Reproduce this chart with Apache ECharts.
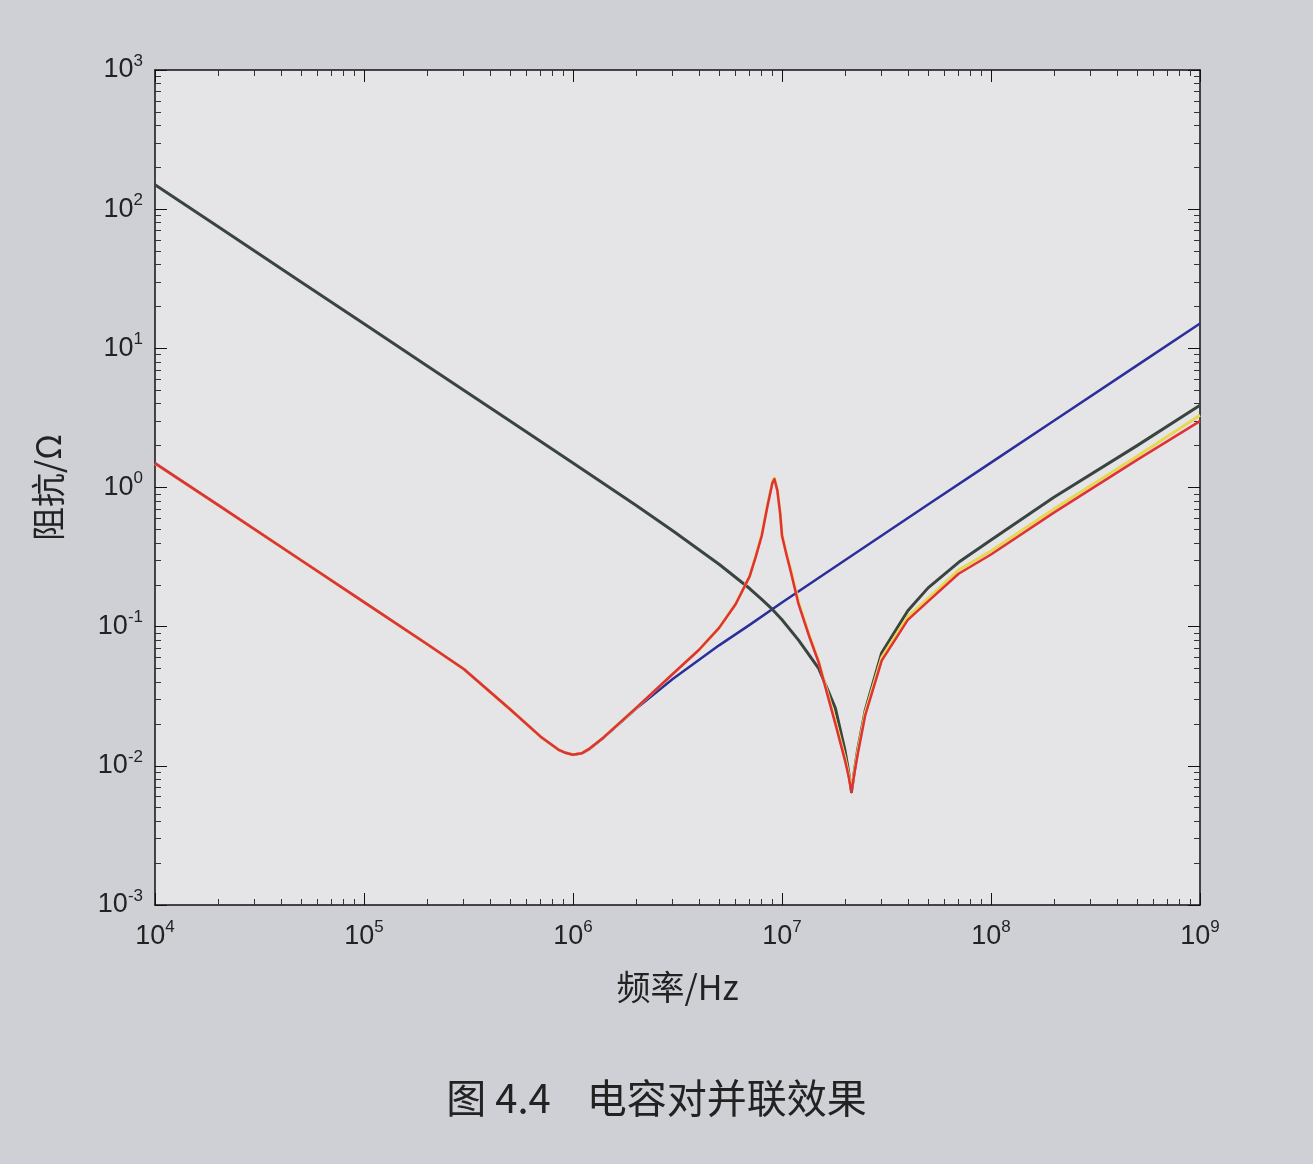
<!DOCTYPE html>
<html><head><meta charset="utf-8">
<script src="https://cdn.jsdelivr.net/npm/echarts@6/dist/echarts.min.js"></script>
<style>html,body{margin:0;padding:0;background:#cfd0d6;}#c{width:1313px;height:1164px;}</style>
</head><body><div id="c"></div>
<script>
// frequencies (Hz)
const freqBlue = [1e4,2e4,5e4,1e5,2e5,3e5,5e5,7e5,8.5e5,9.2e5,1e6,1.1e6,1.2e6,1.4e6,2e6,3e6,5e6,7e6,1e7,2e7,5e7,1e8,2e8,5e8,1e9];
const blueZ    = [1.5,0.75,0.30,0.150,0.075,0.0496,0.0255,0.0162,0.0131,0.0124,0.012,0.0123,0.0132,0.0159,0.0257,0.042,0.0734,0.103,0.149,0.30,0.754,1.51,3.02,7.54,15.1];
const freqBlack = [1e4,2e4,5e4,1e5,2e5,5e5,1e6,2e6,3e6,5e6,7e6,8e6,9e6,1e7,1.2e7,1.5e7,1.8e7,2e7,2.08e7,2.15e7,2.22e7,2.3e7,2.5e7,3e7,4e7,5e7,7e7,1e8,2e8,5e8,1e9];
const blackZ    = [150,75,30,15,7.5,3.0,1.5,0.745,0.489,0.281,0.188,0.157,0.133,0.112,0.08,0.05,0.026,0.013,0.0092,0.0065,0.0092,0.013,0.025,0.065,0.13,0.19,0.29,0.42,0.85,2.0,3.9];
const freqRed = [1e4,2e4,5e4,1e5,2e5,3e5,5e5,7e5,8.5e5,9.2e5,1e6,1.1e6,1.2e6,1.4e6,2e6,3e6,4e6,5e6,6e6,7e6,7.5e6,8e6,8.5e6,9e6,9.2e6,9.5e6,9.8e6,1e7,1.05e7,1.1e7,1.2e7,1.35e7,1.5e7,1.8e7,2e7,2.08e7,2.15e7,2.22e7,2.3e7,2.5e7,3e7,4e7,5e7,7e7,1e8,2e8,5e8,1e9];
const redZ    = [1.49,0.75,0.30,0.150,0.075,0.0496,0.0255,0.0162,0.0131,0.0124,0.012,0.0123,0.0133,0.016,0.026,0.0457,0.068,0.098,0.145,0.23,0.32,0.45,0.72,1.08,1.15,0.95,0.65,0.45,0.33,0.25,0.145,0.085,0.055,0.02,0.011,0.0085,0.0065,0.0088,0.012,0.023,0.057,0.112,0.152,0.24,0.33,0.66,1.58,3.0];
const yellowZ = [1.49,0.75,0.30,0.150,0.075,0.0496,0.0255,0.0162,0.0131,0.0124,0.012,0.0123,0.0133,0.016,0.026,0.0457,0.068,0.098,0.146,0.23,0.325,0.46,0.74,1.1,1.17,0.97,0.66,0.46,0.335,0.26,0.15,0.087,0.056,0.021,0.0115,0.0088,0.0068,0.009,0.0125,0.024,0.06,0.118,0.16,0.255,0.35,0.70,1.68,3.3];
const xTicks = [4,5,6,7,8,9];
const yTicks = [-3,-2,-1,0,1,2,3];

const pairs=(f,z)=>f.map((v,i)=>[v,z[i]]);
const sup=v=>{const e=Math.round(Math.log10(v));return '{b|10}{s|'+e+'}';};
const rich={b:{fontSize:27,fontFamily:'Liberation Sans',color:'#222'},s:{fontSize:17,fontFamily:'Liberation Sans',color:'#222',verticalAlign:'top',padding:[0,0,18,0]}};
const common={type:'log',logBase:10,axisLine:{lineStyle:{color:'#111',width:1.5}},
  axisTick:{inside:true,length:12,lineStyle:{color:'#111'}},
  minorTick:{show:true,splitNumber:9,length:6,lineStyle:{color:'#333'}},
  splitLine:{show:false}};
const ln=(f,z,color,w,zz)=>({type:'line',data:pairs(f,z),showSymbol:false,smooth:false,lineStyle:{color:color,width:w,join:'round'},z:zz});
const ch=echarts.init(document.getElementById('c'));
ch.setOption({
  backgroundColor:'#cfd0d6',
  graphic:[{type:'rect',shape:{x:155,y:70,width:1045,height:835},style:{fill:'#e5e5e8'},z:-1},
    {type:'text',left:'center',top:1078,style:{text:'图 4.4    电容对并联效果',font:'40px "Noto Sans CJK SC"',fill:'#222'}}],
  grid:{left:155,right:113,top:70,bottom:259},
  xAxis:[Object.assign({},common,{min:1e4,max:1e9,position:'bottom',name:'频率/Hz',nameLocation:'middle',nameGap:65,
      nameTextStyle:{fontSize:34,fontFamily:'Noto Sans CJK SC',color:'#222'},
      axisLabel:{formatter:sup,rich:rich,margin:14}}),
    Object.assign({},common,{min:1e4,max:1e9,position:'top',axisLabel:{show:false}})],
  yAxis:[Object.assign({},common,{min:1e-3,max:1e3,position:'left',name:'阻抗/Ω',nameLocation:'middle',nameGap:90,
      nameTextStyle:{fontSize:34,fontFamily:'Noto Sans CJK SC',color:'#222'},
      axisLabel:{formatter:sup,rich:rich,margin:12}}),
    Object.assign({},common,{min:1e-3,max:1e3,position:'right',axisLabel:{show:false}})],
  series:[
    ln(freqBlue,blueZ,'#2a2f9a',2.5,2),
    ln(freqBlack,blackZ,'#3a4540',3,3),
    ln(freqRed,yellowZ,'#e8d850',3,4),
    ln(freqRed,redZ,'#e0303a',2.5,5)
  ]
});
</script></body></html>
